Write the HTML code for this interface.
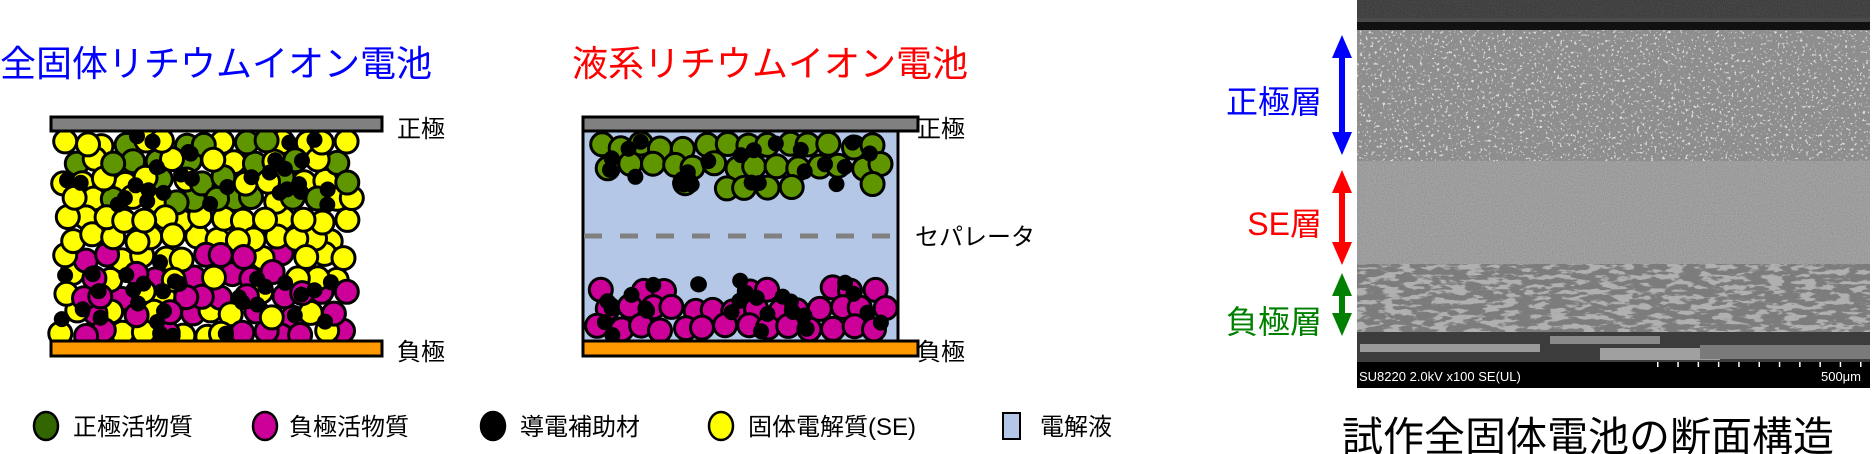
<!DOCTYPE html>
<html><head><meta charset="utf-8">
<style>
html,body{margin:0;padding:0;background:#fff;width:1872px;height:454px;overflow:hidden;}
svg{display:block;}
text{font-family:"Liberation Sans","Noto Sans CJK JP",sans-serif;}
</style></head>
<body>
<svg id="s" width="1872" height="454" xmlns="http://www.w3.org/2000/svg">
<defs>
<filter id="speck" x="0" y="0" width="100%" height="100%">
<feTurbulence type="fractalNoise" baseFrequency="0.35" numOctaves="2" seed="3"/>
<feColorMatrix type="matrix" values="0 0 0 0 1  0 0 0 0 1  0 0 0 0 1  0 0 0 9 -5.6"/>
</filter>
<filter id="dark" x="0" y="0" width="100%" height="100%">
<feTurbulence type="fractalNoise" baseFrequency="0.06 0.2" numOctaves="3" seed="7"/>
<feColorMatrix type="matrix" values="0 0 0 0 0.2  0 0 0 0 0.2  0 0 0 0 0.2  0 0 0 -10 5.9"/>
</filter>
<filter id="grain" x="0" y="0" width="100%" height="100%">
<feTurbulence type="fractalNoise" baseFrequency="0.9" numOctaves="1" seed="2"/>
<feColorMatrix type="matrix" values="0 0 0 0 0  0 0 0 0 0  0 0 0 0 0  0 0 0 0.6 -0.2"/>
</filter>
</defs>

<!-- titles -->
<text x="0" y="76" font-size="36" fill="#0000ff">全固体リチウムイオン電池</text>
<text x="572" y="76" font-size="36" fill="#ff0000">液系リチウムイオン電池</text>

<!-- left cell -->
<g id="left"></g>
<rect x="51" y="117" width="331" height="14" fill="#808080" stroke="#000" stroke-width="3"/>
<rect x="51" y="341" width="331" height="15" fill="#ff9900" stroke="#000" stroke-width="3"/>
<text x="397" y="137" font-size="24" fill="#000">正極</text>
<text x="397" y="360" font-size="24" fill="#000">負極</text>

<!-- right cell -->
<rect x="583" y="131" width="315" height="210" fill="#b4c7e7" stroke="#000" stroke-width="3"/>
<line x1="584" y1="236" x2="897" y2="236" stroke="#808080" stroke-width="5" stroke-dasharray="18,18"/>
<g id="right"></g>
<rect x="583" y="117" width="335" height="14" fill="#808080" stroke="#000" stroke-width="3"/>
<rect x="583" y="341" width="335" height="15" fill="#ff9900" stroke="#000" stroke-width="3"/>
<text x="917" y="137" font-size="24" fill="#000">正極</text>
<text x="917" y="360" font-size="24" fill="#000">負極</text>
<text x="915" y="245" font-size="24" fill="#000">セパレータ</text>

<!-- legend -->
<ellipse cx="46" cy="426" rx="12" ry="14" fill="#336600" stroke="#000" stroke-width="2.5"/>
<text x="73" y="435" font-size="24">正極活物質</text>
<ellipse cx="265" cy="426" rx="12" ry="14" fill="#cc0099" stroke="#000" stroke-width="2.5"/>
<text x="289" y="435" font-size="24">負極活物質</text>
<ellipse cx="493" cy="426" rx="12" ry="14" fill="#000" stroke="#000" stroke-width="2.5"/>
<text x="520" y="435" font-size="24">導電補助材</text>
<ellipse cx="721" cy="426" rx="12" ry="14" fill="#ffff00" stroke="#000" stroke-width="2.5"/>
<text x="748" y="435" font-size="24">固体電解質(SE)</text>
<rect x="1003" y="413" width="17" height="26" fill="#b4c7e7" stroke="#000" stroke-width="2"/>
<text x="1040" y="435" font-size="24">電解液</text>

<!-- arrows & labels -->
<g fill="#0000ff"><rect x="1339" y="56" width="6" height="80"/><polygon points="1332,58 1342,35 1352,58"/><polygon points="1332,132 1342,155 1352,132"/></g>
<g fill="#ff0000"><rect x="1339" y="190" width="6" height="56"/><polygon points="1332,193 1342,170 1352,193"/><polygon points="1332,242 1342,265 1352,242"/></g>
<g fill="#008000"><rect x="1339" y="293" width="6" height="24"/><polygon points="1332,296 1342,273 1352,296"/><polygon points="1332,313 1342,336 1352,313"/></g>
<text x="1322" y="113" font-size="32" fill="#0000ff" text-anchor="end">正極層</text>
<text x="1322" y="235" font-size="32" fill="#ff0000" text-anchor="end">SE層</text>
<text x="1322" y="333" font-size="32" fill="#008000" text-anchor="end">負極層</text>

<!-- SEM -->
<g>
<rect x="1357" y="0" width="513" height="30" fill="#4a4a4a"/>
<rect x="1357" y="0" width="513" height="18" fill="#6e6e6e" filter="url(#grain)"/>
<rect x="1357" y="22" width="513" height="8" fill="#111"/>
<rect x="1357" y="30" width="513" height="131" fill="#8e8e8e"/>
<rect x="1357" y="30" width="513" height="131" filter="url(#speck)" opacity="0.7"/>
<rect x="1357" y="161" width="513" height="103" fill="#a6a6a6"/>
<rect x="1357" y="161" width="513" height="103" filter="url(#grain)" opacity="0.5"/>
<rect x="1357" y="264" width="513" height="68" fill="#b0b0b0"/>
<rect x="1357" y="264" width="513" height="68" filter="url(#dark)"/>
<rect x="1357" y="332" width="513" height="30" fill="#3c3c3c"/>
<rect x="1360" y="344" width="180" height="8" fill="#9a9a9a"/>
<rect x="1550" y="336" width="110" height="8" fill="#8a8a8a"/>
<rect x="1600" y="348" width="120" height="12" fill="#a0a0a0"/>
<rect x="1700" y="345" width="170" height="14" fill="#7a7a7a"/>
<rect x="1357" y="362" width="513" height="26" fill="#000"/>
<g id="ticks"></g>
<text x="1359" y="381" font-size="13" fill="#fff">SU8220 2.0kV x100 SE(UL)</text>
<text x="1861" y="381" font-size="13" fill="#fff" text-anchor="end">500μm</text>
</g>
<text x="1342" y="451" font-size="41" fill="#000">試作全固体電池の断面構造</text>
</svg>
<script>
(function(){
var NS="http://www.w3.org/2000/svg";
var seed=12345;function r(){seed=(seed*1103515245+12345)%2147483648;return seed/2147483648;}
function c(g,x,y,rad,fill,sw){var e=document.createElementNS(NS,"circle");e.setAttribute("cx",x.toFixed(1));e.setAttribute("cy",y.toFixed(1));e.setAttribute("r",rad);e.setAttribute("fill",fill);e.setAttribute("stroke","#000");e.setAttribute("stroke-width",sw);g.appendChild(e);}
var G="#5f9600",M="#cc0099",Y="#ffff00",K="#000";
var L=document.getElementById("left");
var parts=[];
for(var row=0;row<11;row++){var y=143+row*19;for(var i=0;i<15;i++){var x=64+i*20+(row%2?10:0)+(r()-0.5)*8;var yy=y+(r()-0.5)*8;if(x>352)continue;var col=Y;
if(yy<215&&r()<0.5)col=G;if(yy>250&&r()<0.55)col=M;parts.push([x,yy,col]);}}
parts.sort(function(){return r()-0.5;});
parts.forEach(function(p){c(L,p[0],p[1],11.5,p[2],3);});
for(var k=0;k<30;k++){c(L,60+r()*295,135+r()*70,7.5,K,1);}
for(var k=0;k<30;k++){c(L,60+r()*295,262+r()*75,7.5,K,1);}
var R=document.getElementById("right");
var rp=[];
for(var row=0;row<3;row++){for(var i=0;i<14;i++){if(row==2&&r()<0.45)continue;rp.push([600+i*21+(row%2?10:0)+(r()-0.5)*6,146+row*20+(r()-0.5)*6,G]);}}
for(var row=0;row<3;row++){for(var i=0;i<14;i++){if(row==0&&r()<0.45)continue;rp.push([600+i*21+(row%2?10:0)+(r()-0.5)*6,290+row*19+(r()-0.5)*6,M]);}}
rp.forEach(function(p){if(p[0]<888)c(R,p[0],p[1],11.5,p[2],3);});
for(var k=0;k<22;k++){c(R,600+r()*285,136+r()*50,7.5,K,1);}
for(var k=0;k<26;k++){c(R,600+r()*285,280+r()*58,7.5,K,1);}
var T=document.getElementById("ticks");
for(var x=1657;x<1866;x+=20.3){var e=document.createElementNS(NS,"rect");e.setAttribute("x",x);e.setAttribute("y",362);e.setAttribute("width",1.5);e.setAttribute("height",5);e.setAttribute("fill","#fff");T.appendChild(e);}
})();
</script>
</body></html>
